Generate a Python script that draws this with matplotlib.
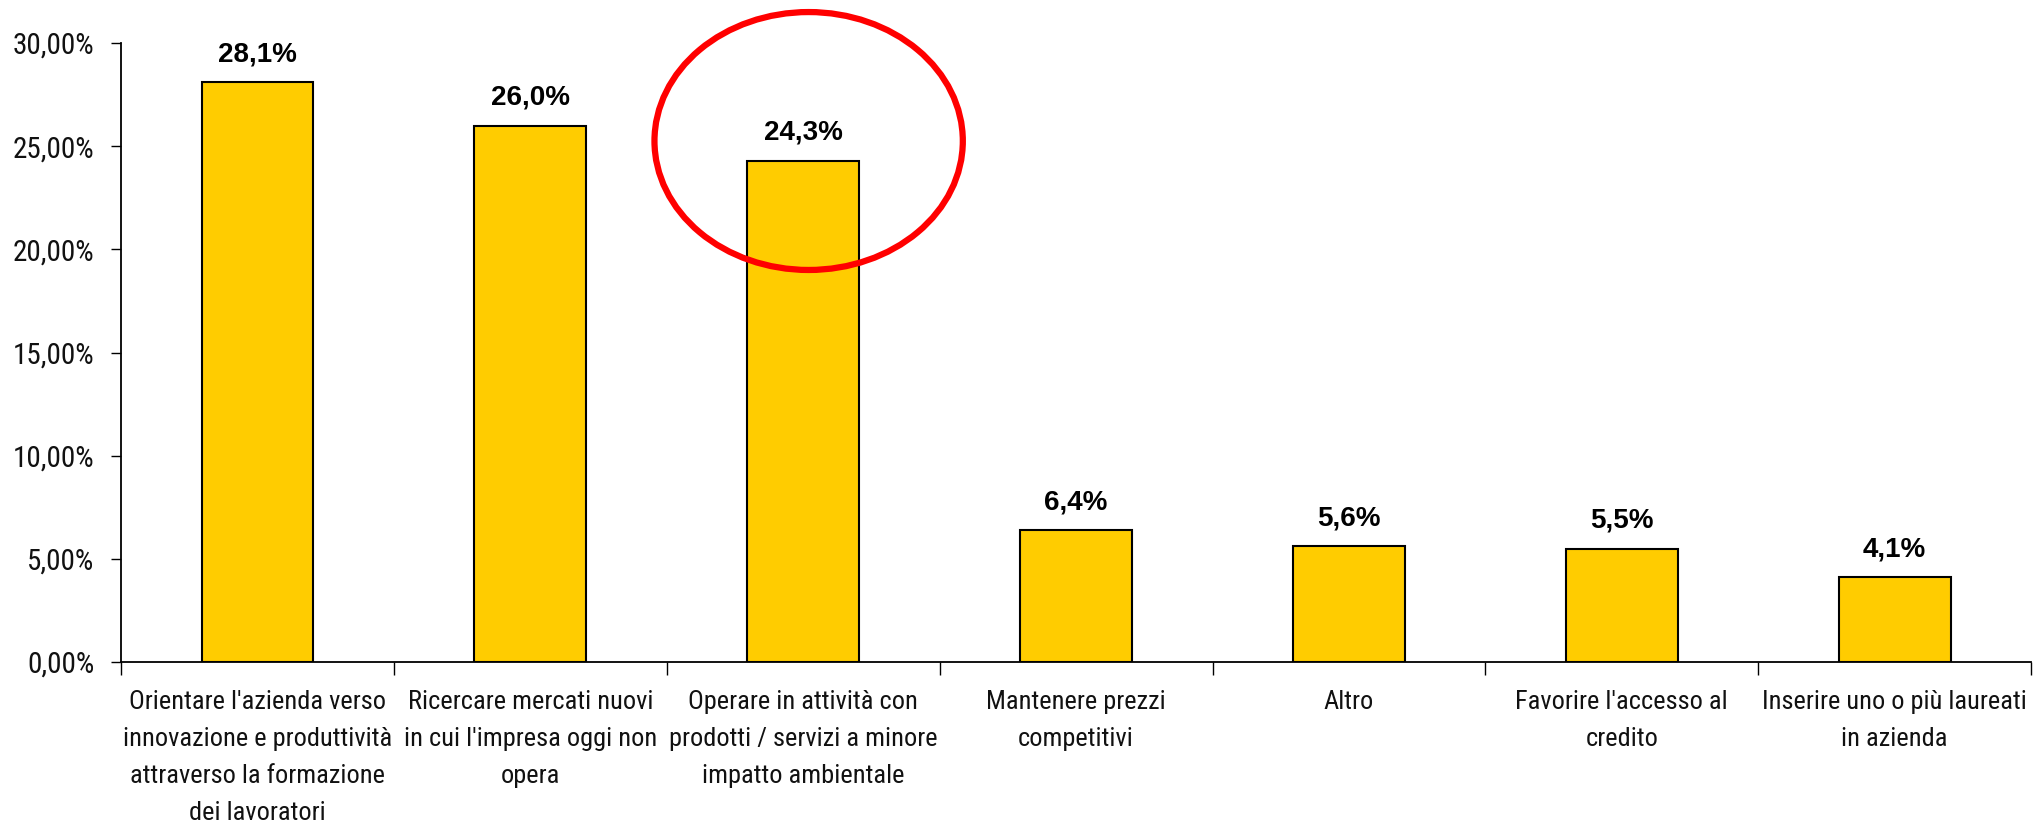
import matplotlib
matplotlib.use('Agg')
import matplotlib.pyplot as plt
from matplotlib.patches import Ellipse
from matplotlib.ticker import FuncFormatter, FixedLocator


categories = [
    "Orientare l'azienda verso\ninnovazione e produttività\nattraverso la formazione\ndei lavoratori",
    "Ricercare mercati nuovi\nin cui l'impresa oggi non\nopera",
    "Operare in attività con\nprodotti / servizi a minore\nimpatto ambientale",
    "Mantenere prezzi\ncompetitivi",
    "Altro",
    "Favorire l'accesso al\ncredito",
    "Inserire uno o più laureati\nin azienda",
]
values = [28.1, 26.0, 24.3, 6.4, 5.6, 5.5, 4.1]
yticks = [0, 5, 10, 15, 20, 25, 30]
highlight = 2  # bar circled in red

narrow = ['Arial Narrow', 'Roboto Condensed', 'Archivo Narrow', 'DejaVu Sans']
bold = ['Liberation Sans', 'DejaVu Sans']

fig = plt.figure(figsize=(20.44, 8.27), dpi=100)
ax = fig.add_axes([0.0592, 0.1995, 0.9345, 0.7485])

x = list(range(len(values)))
ax.bar(x, values, width=0.41, color='#FFCC00', edgecolor='black', linewidth=1.5, zorder=2)

for xi, v in zip(x, values):
    ax.annotate(f"{v:.1f}%".replace('.', ','), (xi, v), xytext=(0, 15), textcoords='offset points',
                ha='center', va='baseline', fontsize=20, fontweight='bold', family=bold)

# red ellipse around the highlighted bar
ell = Ellipse((highlight + 0.02, values[highlight] + 0.95), 1.13, 12.5, fill=False,
              edgecolor='#FF0000', linewidth=4.5, clip_on=False, zorder=3)
ax.add_patch(ell)

ax.set_xlim(-0.5, len(values) - 0.5)
ax.set_ylim(0, 30)
ax.set_yticks(yticks)
ax.yaxis.set_major_formatter(FuncFormatter(lambda v, p: f"{v:.2f}%".replace('.', ',')))

ax.set_xticks(x)
ax.set_xticklabels(categories, fontsize=19, family=narrow, linespacing=1.68, color='#111111')
ax.xaxis.set_minor_locator(FixedLocator([i - 0.5 for i in range(len(values) + 1)]))
ax.tick_params(axis='x', which='major', length=0, pad=20)
ax.tick_params(axis='x', which='minor', length=9, width=1, direction='out')
ax.tick_params(axis='y', length=7, width=1, pad=12, labelsize=21)
for lab in ax.get_yticklabels():
    lab.set_family(narrow)
    lab.set_color('#111111')

for s in ['top', 'right']:
    ax.spines[s].set_visible(False)
for s in ['left', 'bottom']:
    ax.spines[s].set_linewidth(1.3)

fig.savefig('out.png', dpi=100)
